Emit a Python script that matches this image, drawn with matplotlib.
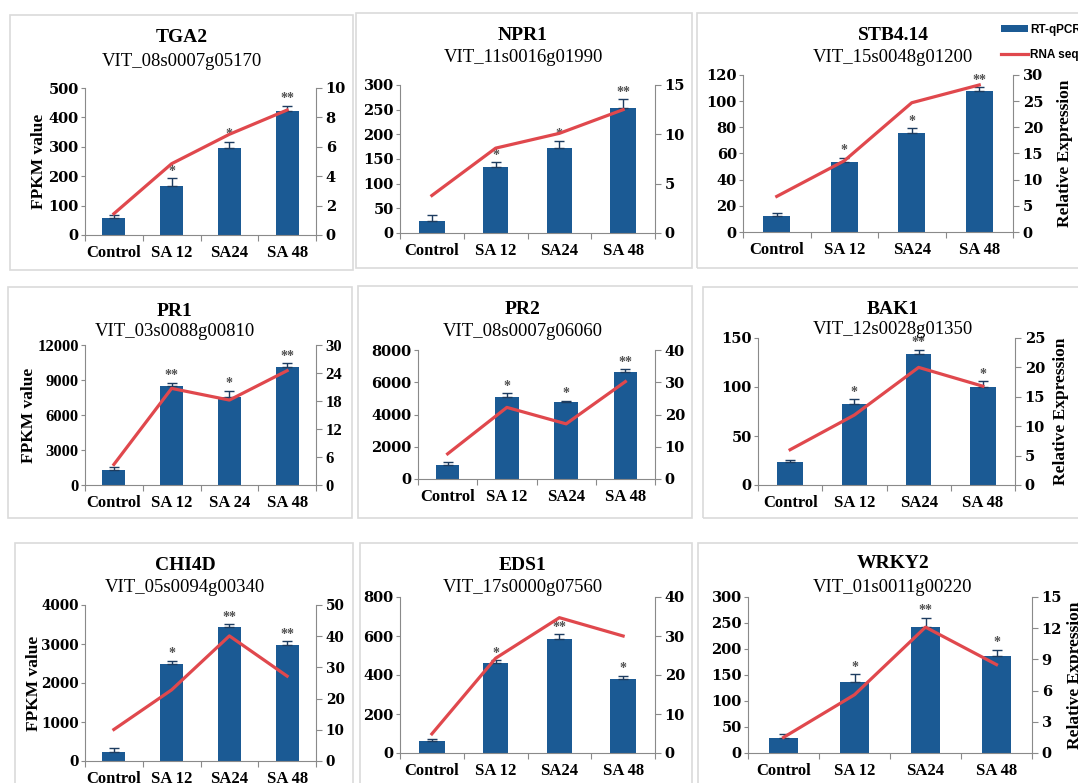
import matplotlib.pyplot as plt
from matplotlib.patches import Rectangle, Patch
from matplotlib.lines import Line2D

W, H = 1078, 783

plt.rcParams['font.family'] = 'Liberation Serif'

BLUE = '#1b5a94'
RED = '#e0484d'
GREY = '#8a8a8a'
WIDE_TICKS = {'family': 'DejaVu Serif', 'weight': 'bold', 'size': 10.5}
NARROW_TICKS = {'family': 'Liberation Serif', 'weight': 'bold', 'size': 12}
SMALL_TICKS = {'family': 'DejaVu Serif', 'weight': 'bold', 'size': 9.8}

labels_a = ['Control', 'SA 12', 'SA24', 'SA 48']
labels_b = ['Control', 'SA 12', 'SA 24', 'SA 48']

# bars on the left axis, line on the right axis
tga2_bar = [58, 165, 295, 422]
tga2_err = [10, 28, 22, 18]
tga2_line = [1.45, 4.85, 6.85, 8.5]
tga2_stars = ['', '*', '*', '**']

npr1_bar = [24, 134, 173, 254]
npr1_err = [12, 9, 13, 17]
npr1_line = [3.8, 8.6, 10.1, 12.5]
npr1_stars = ['', '*', '*', '**']

stb_bar = [12, 53.6, 75.8, 107.7]
stb_err = [2.5, 3, 3.5, 3]
stb_line = [6.8, 13.6, 24.7, 28.1]
stb_stars = ['', '*', '*', '**']

pr1_bar = [1290, 8490, 7510, 10090]
pr1_err = [230, 290, 570, 340]
pr1_line = [4.4, 20.7, 18.2, 24.5]
pr1_stars = ['', '**', '*', '**']

pr2_bar = [845, 5110, 4760, 6620]
pr2_err = [190, 200, 100, 185]
pr2_line = [7.8, 22.2, 17.1, 30.2]
pr2_stars = ['', '*', '*', '**']

bak1_bar = [23.5, 82.5, 134, 100]
bak1_err = [2, 5, 4, 5.7]
bak1_line = [6.0, 11.9, 20.0, 16.8]
bak1_stars = ['', '*', '**', '*']

chi4d_bar = [240, 2480, 3440, 2975]
chi4d_err = [85, 85, 70, 100]
chi4d_line = [10.1, 22.8, 40.1, 27.2]
chi4d_stars = ['', '*', '**', '**']

eds1_bar = [60, 463, 584, 381]
eds1_err = [11, 14, 24, 15]
eds1_line = [4.9, 24.3, 34.7, 30.0]
eds1_stars = ['', '*', '**', '*']

wrky2_bar = [28, 137, 242, 186]
wrky2_err = [9, 14, 18, 13]
wrky2_line = [1.5, 5.6, 12.1, 8.5]
wrky2_stars = ['', '*', '**', '*']

fig = plt.figure(figsize=(W / 100, H / 100), dpi=100)

# light grey frames around each panel (pixel boxes)
frames = [(10, 15, 353, 270), (356, 13, 692, 268), (697, 13, 1085, 268),
          (8, 287, 352, 518), (358, 286, 692, 518), (703, 287, 1085, 518),
          (15, 543, 353, 800), (360, 543, 692, 800), (698, 543, 1085, 800)]
for fx0, fy0, fx1, fy1 in frames:
    fig.patches.append(Rectangle((fx0 / W, 1 - fy1 / H), (fx1 - fx0) / W, (fy1 - fy0) / H,
                                 transform=fig.transFigure, fill=False,
                                 edgecolor='#dadada', lw=1.2))


def panel(box, title_xy, name, gid, cats, bars, err, line, stars, lticks, rticks,
          left_label=None, right_label=None, tick_font=WIDE_TICKS):
    x0, y0, x1, y1 = box
    ax = fig.add_axes([x0 / W, 1 - y1 / H, (x1 - x0) / W, (y1 - y0) / H])
    xs = list(range(len(cats)))
    ax.bar(xs, bars, width=0.4, color=BLUE, zorder=2)
    ax.errorbar(xs, bars, yerr=[[0] * len(err), err], fmt='none', ecolor='#1d3c60',
                elinewidth=1, capsize=3.5, capthick=1, zorder=3)
    ymax = lticks[-1]
    for i, s in enumerate(stars):
        if s:
            ax.text(i, bars[i] + err[i] + ymax * 0.003, s, ha='center', va='bottom',
                    fontsize=10, color='#505050', fontweight='bold')
    ax.set_xlim(-0.5, len(cats) - 0.5)
    ax.set_ylim(0, ymax)
    ax.set_yticks(lticks)
    ax.set_yticklabels([str(t) for t in lticks], fontdict=tick_font)
    ax.set_xticks([i - 0.5 for i in range(len(cats) + 1)])
    ax.set_xticklabels([])
    ax.set_xticks(xs, minor=True)
    ax.set_xticklabels(cats, minor=True, fontweight='bold', fontsize=12)
    ax.tick_params(axis='x', which='minor', length=0, pad=7)
    ax.tick_params(axis='x', which='major', length=4, color=GREY, direction='out')
    ax.tick_params(axis='y', length=3, color=GREY, direction='out', pad=1.5)
    for sp in ['top', 'right']:
        ax.spines[sp].set_visible(False)
    for sp in ['left', 'bottom']:
        ax.spines[sp].set_color(GREY)
    if left_label:
        ax.set_ylabel('FPKM value', fontweight='bold', fontsize=12.5)
        ax.yaxis.set_label_coords((left_label - x0) / (x1 - x0), 0.5)

    ax2 = ax.twinx()
    ax2.plot(xs, line, color=RED, lw=2.3, zorder=4)
    ax2.set_ylim(0, rticks[-1])
    ax2.set_yticks(rticks)
    ax2.set_yticklabels([str(t) for t in rticks], fontdict=tick_font)
    ax2.tick_params(axis='y', length=4, color=GREY, direction='out', pad=3)
    for sp in ['top', 'left', 'bottom']:
        ax2.spines[sp].set_visible(False)
    ax2.spines['right'].set_color(GREY)
    if right_label:
        ax2.set_ylabel('Relative Expression', fontweight='bold', fontsize=12.5)
        ax2.yaxis.set_label_coords((right_label - x0) / (x1 - x0), 0.5)

    tx, ty, sy = title_xy
    fig.text(tx / W, 1 - ty / H, name, ha='center', va='center', fontsize=14,
             fontweight='bold')
    fig.text(tx / W, 1 - sy / H, gid, ha='center', va='center', fontsize=13.5)
    return ax, ax2


panel((85, 88, 316, 235), (182, 38, 62), 'TGA2', 'VIT_08s0007g05170', labels_a,
      tga2_bar, tga2_err, tga2_line, tga2_stars,
      [0, 100, 200, 300, 400, 500], [0, 2, 4, 6, 8, 10], left_label=47)
panel((400, 85, 655, 233), (523, 35, 57), 'NPR1', 'VIT_11s0016g01990', labels_a,
      npr1_bar, npr1_err, npr1_line, npr1_stars,
      [0, 50, 100, 150, 200, 250, 300], [0, 5, 10, 15])
panel((743, 75, 1013, 232), (893, 35, 58), 'STB4.14', 'VIT_15s0048g01200', labels_a,
      stb_bar, stb_err, stb_line, stb_stars,
      [0, 20, 40, 60, 80, 100, 120], [0, 5, 10, 15, 20, 25, 30], right_label=1057)

panel((85, 345, 316, 485), (175, 312, 332), 'PR1', 'VIT_03s0088g00810', labels_b,
      pr1_bar, pr1_err, pr1_line, pr1_stars,
      [0, 3000, 6000, 9000, 12000], [0, 6, 12, 18, 24, 30], left_label=37,
      tick_font=NARROW_TICKS)
panel((418, 350, 655, 479), (523, 310, 332), 'PR2', 'VIT_08s0007g06060', labels_a,
      pr2_bar, pr2_err, pr2_line, pr2_stars,
      [0, 2000, 4000, 6000, 8000], [0, 10, 20, 30, 40])
panel((758, 338, 1015, 485), (893, 309, 329), 'BAK1', 'VIT_12s0028g01350', labels_a,
      bak1_bar, bak1_err, bak1_line, bak1_stars,
      [0, 50, 100, 150], [0, 5, 10, 15, 20, 25], right_label=1053)

panel((85, 605, 316, 761), (185, 565, 588), 'CHI4D', 'VIT_05s0094g00340', labels_a,
      chi4d_bar, chi4d_err, chi4d_line, chi4d_stars,
      [0, 1000, 2000, 3000, 4000], [0, 10, 20, 30, 40, 50], left_label=42,
      tick_font=SMALL_TICKS)
panel((400, 597, 655, 753), (523, 565, 587), 'EDS1', 'VIT_17s0000g07560', labels_a,
      eds1_bar, eds1_err, eds1_line, eds1_stars,
      [0, 200, 400, 600, 800], [0, 10, 20, 30, 40])
panel((748, 597, 1032, 753), (893, 563, 587), 'WRKY2', 'VIT_01s0011g00220', labels_a,
      wrky2_bar, wrky2_err, wrky2_line, wrky2_stars,
      [0, 50, 100, 150, 200, 250, 300], [0, 3, 6, 9, 12, 15], right_label=1067)

handles = [Patch(facecolor=BLUE, edgecolor='none'), Line2D([], [], color=RED, lw=2.3)]
fig.legend(handles, ['RT-qPCR', 'RNA seq'], loc='upper left',
           bbox_to_anchor=(990 / W, 1 - 13 / H), frameon=False, handlelength=2.3,
           handleheight=0.6, labelspacing=1.1, handletextpad=0.2,
           prop={'family': 'Liberation Sans', 'weight': 'bold', 'size': 8.5})

fig.savefig('out.png', dpi=100)
